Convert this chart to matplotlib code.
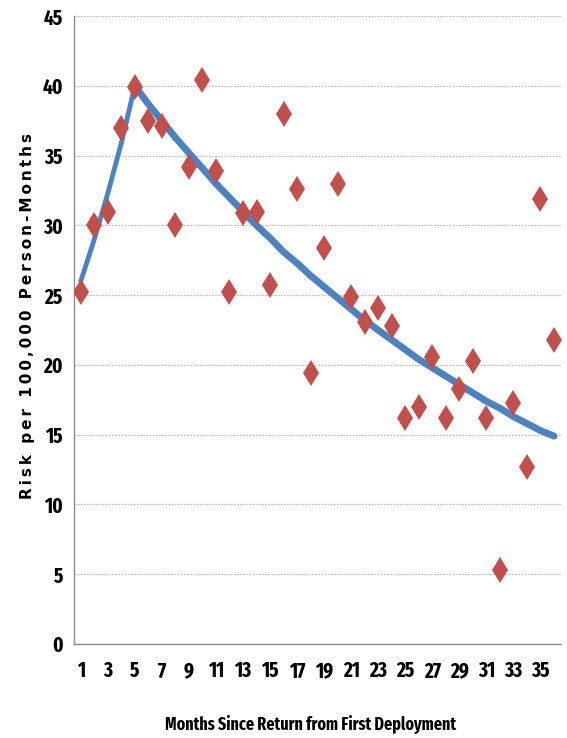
import matplotlib.pyplot as plt

months = list(range(1, 37))
risk = [25.2, 30.0, 31.0, 37.0, 39.9, 37.5, 37.1, 30.0, 34.2, 40.4,
        33.9, 25.2, 30.9, 31.0, 25.7, 38.0, 32.6, 19.4, 28.4, 33.0,
        24.9, 23.1, 24.1, 22.8, 16.2, 17.0, 20.6, 16.2, 18.3, 20.3,
        16.2, 5.3, 17.3, 12.7, 31.9, 21.8]

# fitted trend: rising part (months 1-5) and decay part (months 5-36)
rise_months = [1, 2, 3, 4, 5]
rise_trend = [26.0, 29.0, 32.3, 35.9, 40.0]
decay_months = list(range(5, 37))
decay_trend = [40.0, 38.7, 37.5, 36.3, 35.2, 34.1, 33.0, 32.0, 31.0, 30.0,
               29.1, 28.1, 27.3, 26.4, 25.6, 24.8, 24.0, 23.2, 22.5, 21.8,
               21.1, 20.4, 19.8, 19.2, 18.6, 18.0, 17.4, 16.9, 16.3, 15.8,
               15.3, 14.9]

ytick_vals = list(range(0, 46, 5))
xtick_vals = list(range(1, 36, 2))
xlabel = 'Months Since Return from First Deployment'
ylabel = 'Risk per 100,000 Person-Months'

cond = ['Fira Sans Extra Condensed', 'Roboto Condensed', 'DejaVu Sans']

fig = plt.figure(figsize=(5.67, 7.38), dpi=100)
ax = fig.add_axes([0.1305, 0.1274, 0.8585, 0.8506])

ax.plot(rise_months, rise_trend, color='#4F81BD', lw=3.5, solid_capstyle='round', zorder=2)
ax.plot(decay_months, decay_trend, color='#4F81BD', lw=5, solid_capstyle='round', zorder=2)
ax.plot(months, risk, linestyle='none', marker='d', markersize=13,
        color='#C0504D', markeredgewidth=0, zorder=3)

ax.set_xlim(0.5, 36.5)
ax.set_ylim(0, 45)
ax.set_yticks(ytick_vals)
ax.set_xticks(xtick_vals)
ax.yaxis.grid(True, color='#BFBFBF', linestyle=(0, (1.5, 1)), lw=0.9)
ax.set_axisbelow(True)

for s in ['top', 'right']:
    ax.spines[s].set_visible(False)
for s in ['left', 'bottom']:
    ax.spines[s].set_color('#8C8C8C')
    ax.spines[s].set_linewidth(1.0)

ax.tick_params(axis='both', length=0)
ax.tick_params(axis='y', pad=8)
ax.tick_params(axis='x', pad=12)
for lbl in ax.get_xticklabels() + ax.get_yticklabels():
    lbl.set_fontfamily(cond)
    lbl.set_fontsize(15)
    lbl.set_fontweight('bold')

fig.text(311 / 567, 1 - 724 / 738, xlabel, family=cond, fontsize=12.5,
         fontweight='bold', ha='center', va='center')

# wide, letter-spaced vertical title
spaced = '\u2009 \u2009'.join('\u2009'.join(w) for w in ylabel.split(' '))
fig.text(28 / 567, 1 - 316 / 738, spaced, family='DejaVu Sans', fontsize=11,
         fontweight='bold', rotation=90, ha='center', va='center')

fig.savefig('out.png', dpi=100)
